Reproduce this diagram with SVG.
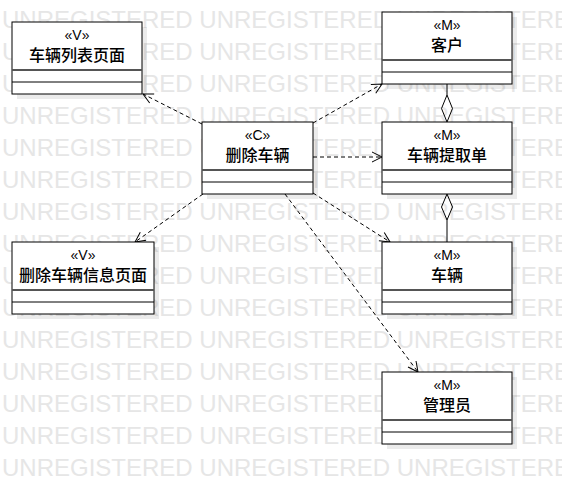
<svg xmlns="http://www.w3.org/2000/svg" width="562" height="493" viewBox="0 0 562 493">
<style>
.wm{font-family:"Liberation Sans",Arial,sans-serif;font-size:24px;fill:#e6e6e6}
.sh{fill:#000;fill-opacity:0.08}
.box{fill:#fff;stroke:#000;stroke-width:1}
.d1{stroke:#555;stroke-width:2}
.d2{stroke:#000;stroke-width:1}
.st{font-family:"Liberation Sans",Arial,sans-serif;font-size:14px;fill:#000;text-anchor:middle}
.nm{font-family:"Liberation Sans","Noto Sans CJK SC",sans-serif;font-size:16px;font-weight:500;fill:#000;text-anchor:middle}
.dep{fill:none;stroke:#000;stroke-width:1;stroke-dasharray:4 3}
.agg{fill:none;stroke:#000;stroke-width:1}
</style>
<defs>
<marker id="open" markerUnits="userSpaceOnUse" markerWidth="12" markerHeight="12" viewBox="0 0 12 12" refX="11" refY="6" orient="auto">
<path d="M1,1 L11,6 L1,11" fill="none" stroke="#000" stroke-width="1"/>
</marker>
</defs>
<rect width="562" height="493" fill="#fff"/>
<g id="watermark">
<text class="wm" x="2" y="28">UNREGISTERED UNREGISTERED UNREGISTERED</text>
<text class="wm" x="2" y="60">UNREGISTERED UNREGISTERED UNREGISTERED</text>
<text class="wm" x="2" y="92">UNREGISTERED UNREGISTERED UNREGISTERED</text>
<text class="wm" x="2" y="124">UNREGISTERED UNREGISTERED UNREGISTERED</text>
<text class="wm" x="2" y="156">UNREGISTERED UNREGISTERED UNREGISTERED</text>
<text class="wm" x="2" y="188">UNREGISTERED UNREGISTERED UNREGISTERED</text>
<text class="wm" x="2" y="220">UNREGISTERED UNREGISTERED UNREGISTERED</text>
<text class="wm" x="2" y="252">UNREGISTERED UNREGISTERED UNREGISTERED</text>
<text class="wm" x="2" y="284">UNREGISTERED UNREGISTERED UNREGISTERED</text>
<text class="wm" x="2" y="316">UNREGISTERED UNREGISTERED UNREGISTERED</text>
<text class="wm" x="2" y="348">UNREGISTERED UNREGISTERED UNREGISTERED</text>
<text class="wm" x="2" y="380">UNREGISTERED UNREGISTERED UNREGISTERED</text>
<text class="wm" x="2" y="412">UNREGISTERED UNREGISTERED UNREGISTERED</text>
<text class="wm" x="2" y="444">UNREGISTERED UNREGISTERED UNREGISTERED</text>
<text class="wm" x="2" y="476">UNREGISTERED UNREGISTERED UNREGISTERED</text>
</g>
<g id="connectors">
<line class="dep" x1="202" y1="124" x2="143" y2="94" marker-end="url(#open)"/>
<line class="dep" x1="313" y1="123" x2="382" y2="84" marker-end="url(#open)"/>
<line class="dep" x1="313" y1="157" x2="382" y2="157" marker-end="url(#open)"/>
<line class="dep" x1="203" y1="194" x2="135" y2="242" marker-end="url(#open)"/>
<line class="dep" x1="313" y1="193" x2="390" y2="242" marker-end="url(#open)"/>
<line class="dep" x1="285" y1="194" x2="418" y2="372" marker-end="url(#open)"/>
<path class="agg" d="M447,84 L447,95 L441.5,108.5 L447,122 L452.5,108.5 L447,95"/>
<path class="agg" d="M447,194 L441.5,207 L447,220 L452.5,207 Z M447,220 L447,242"/>
</g>
<g id="n1">
<rect class="sh" x="17" y="27" width="130" height="72"/>
<rect class="box" x="12" y="22" width="130" height="72"/>
<line class="d1" x1="12" y1="70" x2="142" y2="70"/>
<line class="d2" x1="12" y1="82" x2="142" y2="82"/>
<text class="st" x="77" y="40">«V»</text>
<text class="nm" x="77" y="61">车辆列表页面</text>
</g>
<g id="n2">
<rect class="sh" x="387" y="17" width="130" height="72"/>
<rect class="box" x="382" y="12" width="130" height="72"/>
<line class="d1" x1="382" y1="60" x2="512" y2="60"/>
<line class="d2" x1="382" y1="72" x2="512" y2="72"/>
<text class="st" x="447" y="30">«M»</text>
<text class="nm" x="447" y="51">客户</text>
</g>
<g id="n3">
<rect class="sh" x="207" y="127" width="111" height="72"/>
<rect class="box" x="202" y="122" width="111" height="72"/>
<line class="d1" x1="202" y1="170" x2="313" y2="170"/>
<line class="d2" x1="202" y1="182" x2="313" y2="182"/>
<text class="st" x="257.5" y="140">«C»</text>
<text class="nm" x="257.5" y="161">删除车辆</text>
</g>
<g id="n4">
<rect class="sh" x="387" y="127" width="130" height="72"/>
<rect class="box" x="382" y="122" width="130" height="72"/>
<line class="d1" x1="382" y1="170" x2="512" y2="170"/>
<line class="d2" x1="382" y1="182" x2="512" y2="182"/>
<text class="st" x="447" y="140">«M»</text>
<text class="nm" x="447" y="161">车辆提取单</text>
</g>
<g id="n5">
<rect class="sh" x="17" y="247" width="142" height="72"/>
<rect class="box" x="12" y="242" width="142" height="72"/>
<line class="d1" x1="12" y1="290" x2="154" y2="290"/>
<line class="d2" x1="12" y1="302" x2="154" y2="302"/>
<text class="st" x="83" y="260">«V»</text>
<text class="nm" x="83" y="281">删除车辆信息页面</text>
</g>
<g id="n6">
<rect class="sh" x="387" y="247" width="130" height="72"/>
<rect class="box" x="382" y="242" width="130" height="72"/>
<line class="d1" x1="382" y1="290" x2="512" y2="290"/>
<line class="d2" x1="382" y1="302" x2="512" y2="302"/>
<text class="st" x="447" y="260">«M»</text>
<text class="nm" x="447" y="281">车辆</text>
</g>
<g id="n7">
<rect class="sh" x="387" y="377" width="130" height="72"/>
<rect class="box" x="382" y="372" width="130" height="72"/>
<line class="d1" x1="382" y1="420" x2="512" y2="420"/>
<line class="d2" x1="382" y1="432" x2="512" y2="432"/>
<text class="st" x="447" y="390">«M»</text>
<text class="nm" x="447" y="411">管理员</text>
</g>
</svg>
